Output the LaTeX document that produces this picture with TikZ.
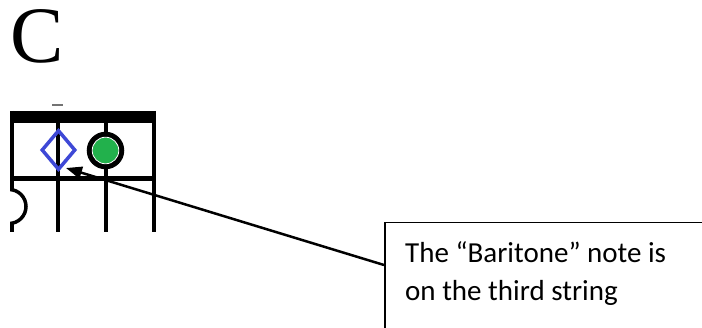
\documentclass[tikz,border=0pt]{standalone}
\usepackage{fontspec}
\setmainfont{Liberation Serif}
\newfontfamily\calloutfont{Carlito}
\usetikzlibrary{shapes.geometric,arrows.meta}

\definecolor{diamondblue}{RGB}{62,72,214}
\definecolor{rootgreen}{RGB}{34,177,76}

\tikzset{
  stringline/.style={line width=4pt, line cap=butt},
  fretline/.style={line width=5pt},
  pointer/.style={line width=2.5pt, -{Triangle[length=16pt,width=12pt]}},
  calloutbox/.style={draw, line width=1.5pt, inner sep=0pt},
}

\begin{document}
\begin{tikzpicture}[x=1pt,y=-1pt]
\useasboundingbox (0,0) rectangle (702,328);
\clip (0,0) rectangle (702,328);

% chord name
\node (chordname) [anchor=base west, inner sep=0pt,
  font=\fontsize{80}{80}\selectfont] at (10,63) {C};

% small mark above the nut
\draw[black!55, line width=2pt] (52,105) -- (63,105);

% fretboard
\begin{scope}
  \clip (10,0) rectangle (160,232);
  \fill (10,111) rectangle (156,123);
  \foreach \x in {12,58,106,154}
    \draw[stringline] (\x,111) -- (\x,232);
  \draw[fretline] (10,179) -- (156,179);
  \node (lowmark) [circle, draw, line width=3.5pt, fill=white,
    minimum size=34pt, inner sep=0pt] at (9,206.5) {};
\end{scope}

% baritone note (diamond) and root note (green dot)
\node (baritone) [diamond, draw=diamondblue, line width=3.5pt, inner sep=0pt,
  minimum width=34pt, minimum height=40pt] at (58.5,150) {};
\node (root) [circle, draw, line width=5.5pt, fill=rootgreen,
  minimum size=32pt, inner sep=0pt] at (105.5,150.5) {};
\draw[white, line width=0.8pt] (root.center) circle (13.3);

% callout
\node (callout) [calloutbox, anchor=north west,
  minimum width=400pt, minimum height=200pt] at (384,222) {};
\node (note) [anchor=north west, align=left, inner sep=0pt,
  font=\calloutfont\fontsize{29}{38}\selectfont] at (405,241)
  {The “Baritone” note is\\on the third string};

\coordinate (tail) at (384,265);
\coordinate (tip) at (66,168);
\draw[pointer] (tail) -- (tip);
\end{tikzpicture}
\end{document}
